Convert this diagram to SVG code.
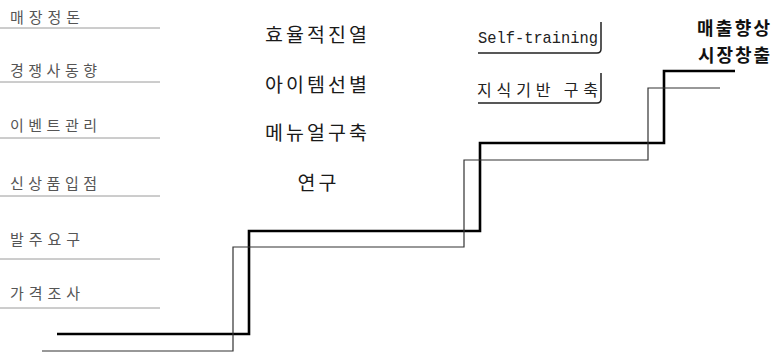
<svg xmlns="http://www.w3.org/2000/svg" width="779" height="352" viewBox="0 0 779 352">
<style>
.lbl{font-family:"Noto Sans CJK KR","Noto Sans",sans-serif;font-size:15px;fill:#555;}
.ul{stroke:#9a9a9a;stroke-width:1;fill:none;}
.mid{font-family:"Noto Sans CJK KR","Noto Sans",sans-serif;font-size:19.5px;fill:#1a1a1a;text-anchor:middle;}
.box{stroke:#222;stroke-width:1.5;fill:none;}
.boxt{font-family:"Noto Sans CJK KR","Noto Sans",sans-serif;font-size:16px;fill:#222;}
.mono{font-family:"Liberation Mono","DejaVu Sans Mono",monospace;font-size:17px;fill:#222;}
.goal{font-family:"Noto Sans CJK KR","Noto Sans",sans-serif;font-size:18px;font-weight:bold;fill:#111;}
.thick{stroke:#000;stroke-width:2.6;fill:none;}
.thin{stroke:#333;stroke-width:1.2;fill:none;}
</style>
<rect width="779" height="352" fill="#fff"/>
<g id="left-labels">
  <g id="l1"><text class="lbl" x="10" y="23" textLength="70">매장정돈</text><line class="ul" x1="0" y1="28" x2="160" y2="28"/></g>
  <g id="l2"><text class="lbl" x="10" y="76" textLength="87">경쟁사동향</text><line class="ul" x1="0" y1="82" x2="160" y2="82"/></g>
  <g id="l3"><text class="lbl" x="10" y="131" textLength="87">이벤트관리</text><line class="ul" x1="0" y1="138" x2="160" y2="138"/></g>
  <g id="l4"><text class="lbl" x="10" y="189" textLength="87">신상품입점</text><line class="ul" x1="0" y1="196" x2="160" y2="196"/></g>
  <g id="l5"><text class="lbl" x="10" y="245" textLength="70">발주요구</text><line class="ul" x1="0" y1="259" x2="160" y2="259"/></g>
  <g id="l6"><text class="lbl" x="10" y="299" textLength="70">가격조사</text><line class="ul" x1="0" y1="308" x2="160" y2="308"/></g>
</g>
<g id="middle-labels">
  <g id="m1"><text class="mid" x="316" y="42" textLength="102">효율적진열</text></g>
  <g id="m2"><text class="mid" x="316" y="92" textLength="102">아이템선별</text></g>
  <g id="m3"><text class="mid" x="316" y="140" textLength="102">메뉴얼구축</text></g>
  <g id="m4"><text class="mid" x="317" y="190" textLength="39">연구</text></g>
</g>
<g id="box-self-training">
  <text class="mono" x="478" y="43" textLength="120" lengthAdjust="spacingAndGlyphs">Self-training</text>
  <path class="box" d="M601,22 V49 Q601,53 597,53 H478"/>
</g>
<g id="box-knowledge">
  <text class="boxt" x="477" y="96" textLength="121">지식기반 구축</text>
  <path class="box" d="M601,73 V99 Q601,103 597,103 H478"/>
</g>
<g id="goal">
  <text class="goal" x="697" y="35" textLength="73">매출향상</text>
  <text class="goal" x="698" y="62" textLength="72">시장창출</text>
</g>
<g id="connectors">
  <path class="thick" d="M57,334 H249 V231 H480 V143 H664 V71 H735"/>
  <path class="thin" d="M42,351 H233 V247 H464 V160 H648 V88 H720"/>
</g>
</svg>
